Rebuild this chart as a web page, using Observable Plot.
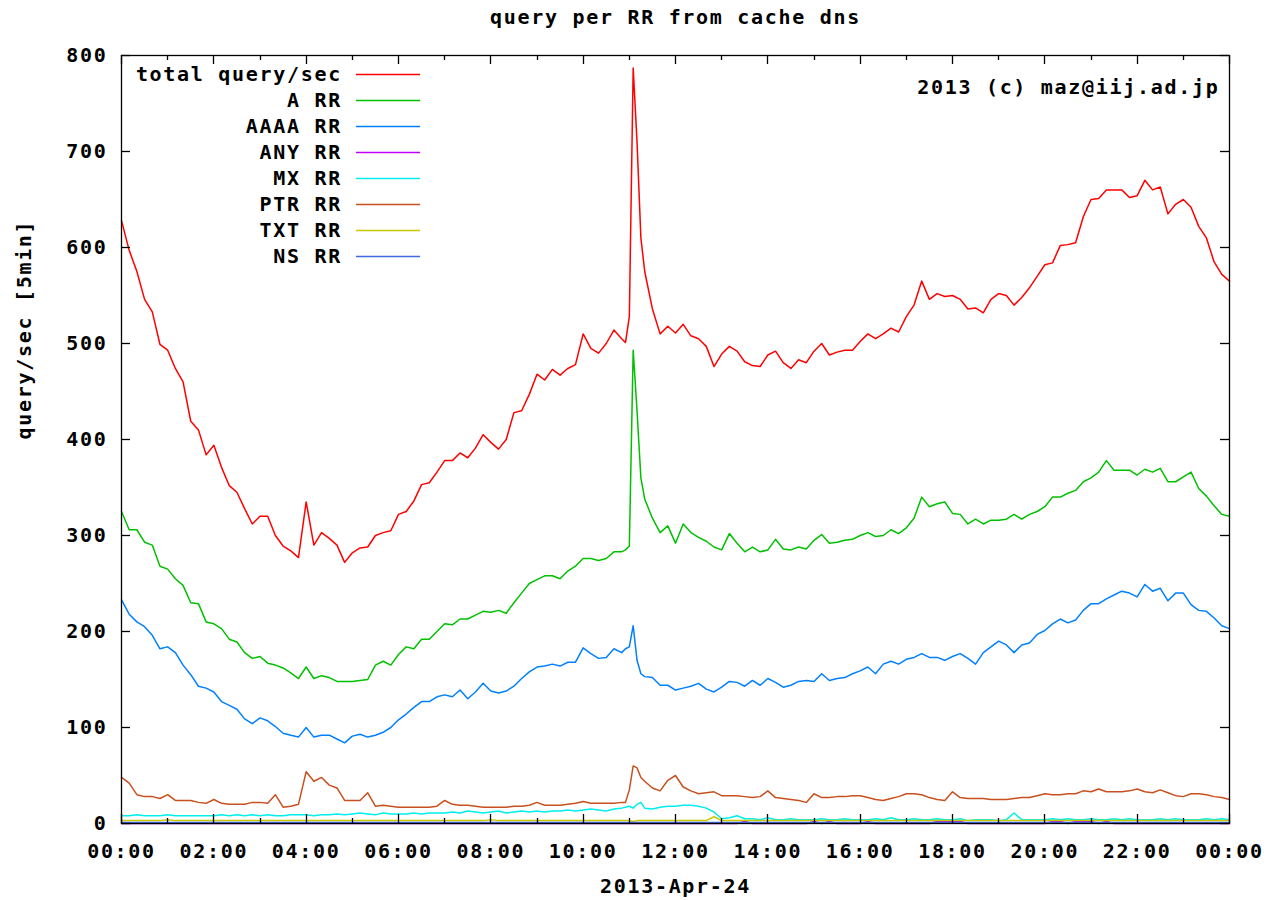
<!DOCTYPE html>
<html>
<head>
<meta charset="utf-8">
<script src="https://cdn.jsdelivr.net/npm/d3@7"></script>
<script src="https://cdn.jsdelivr.net/npm/@observablehq/plot@0.6"></script>
<style>
  html, body { margin: 0; padding: 0; background: #fff; overflow: hidden; }
  #chart svg { display: block; }
  #chart svg text { letter-spacing: 1.7px; }
</style>
</head>
<body>
<div id="chart"></div>
<script>
// DNS cache: queries per second by resource record type, 24 April 2013.
const FONT = "'DejaVu Sans Mono', 'Liberation Mono', monospace";
const day = Date.UTC(2013, 3, 24);

// Sample times in minutes after midnight (10-minute steps, 5-minute steps around the 11:05 burst)
const minutes = [...d3.range(0, 1441, 10), 655, 665, 675].sort((a, b) => a - b);

const seriesNames = ["total query/sec", "A RR", "AAAA RR", "ANY RR", "MX RR", "PTR RR", "TXT RR", "NS RR"];
const seriesColors = ["#ff0000", "#00c000", "#0080ff", "#c000ff", "#00eeee", "#c8501e", "#c8c800", "#4169e1"];

const totalQps = [
  628,597,575,546,533,499,
  493,474,460,419,410,384,
  394,371,352,345,328,312,
  320,320,300,289,284,277,
  335,290,303,297,290,272,
  282,287,288,300,303,305,
  322,325,336,353,355,366,
  378,378,386,381,391,405,
  397,390,400,428,430,447,
  468,462,473,467,474,478,
  510,495,490,500,514,505,501,
  528,787,710,610,575,536,510,518,
  511,520,508,505,497,476,
  489,497,492,481,477,476,
  488,492,480,474,483,480,
  492,500,488,491,493,493,
  502,510,505,510,516,512,
  528,540,565,546,552,549,
  550,546,536,537,532,546,
  552,550,540,548,558,570,
  582,584,602,603,605,632,
  650,651,660,660,660,652,
  654,670,660,663,635,645,
  650,642,622,610,585,572,
  565
];

const aRR = [
  325,306,306,293,290,268,
  265,255,248,230,229,210,
  208,203,192,189,178,172,
  174,167,165,162,157,151,
  163,151,154,152,148,148,
  148,149,150,165,169,165,
  176,184,182,192,192,200,
  208,207,213,213,217,221,
  220,222,219,230,240,250,
  254,258,258,255,263,268,
  276,276,274,276,283,283,285,
  289,493,430,360,338,318,303,310,
  292,312,303,298,294,288,
  285,302,292,283,288,283,
  285,296,286,285,288,286,
  295,301,292,293,295,296,
  300,303,299,300,306,302,
  308,318,340,330,333,335,
  323,322,312,317,312,316,
  316,317,322,317,322,325,
  330,340,340,344,347,356,
  360,366,378,368,368,368,
  363,369,366,370,356,356,
  361,366,349,341,331,322,
  320
];

const aaaaRR = [
  233,218,210,205,196,182,
  184,178,165,155,143,141,
  137,127,123,119,109,104,
  110,107,101,94,92,90,
  100,90,92,92,88,84,
  91,93,90,92,95,100,
  108,114,121,127,127,132,
  134,132,139,130,137,146,
  138,136,138,143,151,158,
  163,164,166,164,168,168,
  183,177,172,173,182,178,182,
  184,206,170,156,153,152,144,144,
  139,141,143,146,140,137,
  142,148,147,143,149,144,
  151,147,142,144,148,149,
  148,156,149,151,152,156,
  159,163,156,166,169,166,
  171,173,177,173,173,170,
  174,177,172,166,178,184,
  190,186,178,186,188,197,
  201,208,213,209,212,222,
  229,229,234,238,242,240,
  236,249,242,245,232,240,
  240,228,222,221,214,206,
  203
];

const anyRR = [
  0,0,0,0,0,0, 0,0,0,0,0,0, 0,0,0,0,0,0, 0,0,0,0,0,0, 0,0,0,0,0,0,
  0,0,0,0,0,0, 0,0,0,0,0,0, 0,0,0,0,0,0, 0,0,0,0,0,0, 0,0,0,0,0,0,
  0,0,0,0,0,0,0,
  0,0,0,0,0,0,0,0,
  0,0,0,0,0,0,
  0,0,0,2,0,0,
  0,0,0,0,0,0,
  2,0,2,0,0,0,
  0,2,0,0,0,0,
  0,0,0,0,2,2,
  2,2,0,0,0,0,
  0,0,0,0,0,0,
  0,2,2,0,2,2,
  2,0,2,0,0,0,
  0,0,0,0,0,0,
  0,0,0,0,0,0,
  0
];

const mxRR = [
  8,8,9,8,8,8,
  9,8,8,8,8,8,
  8,9,8,9,8,9,
  8,9,8,8,9,9,
  9,8,9,9,10,9,
  10,11,10,9,11,10,
  10,10,11,10,11,11,
  11,12,11,13,12,11,
  12,13,11,12,13,12,
  13,12,13,13,14,13,
  14,15,14,13,15,16,17,
  18,16,20,22,16,15,17,18,
  18,19,19,18,16,12,
  5,6,8,5,5,4,
  6,4,4,5,4,4,
  4,5,4,4,5,4,
  4,4,5,4,6,4,
  4,5,4,4,5,4,
  4,5,3,4,4,4,
  3,4,11,4,4,4,
  4,5,4,5,4,4,
  5,4,4,5,4,5,
  4,4,4,5,4,5,
  4,4,4,5,4,5,
  4
];

const ptrRR = [
  48,42,30,28,28,26,
  30,24,24,24,22,21,
  25,21,20,20,20,22,
  22,21,30,17,18,20,
  54,44,48,40,37,24,
  24,24,32,18,19,18,
  17,17,17,17,17,18,
  24,20,19,19,18,17,
  17,17,17,18,18,19,
  22,19,19,19,20,21,
  23,21,21,21,21,22,22,
  35,60,58,48,44,37,34,45,
  50,38,34,31,32,33,
  29,29,29,28,27,28,
  34,27,26,25,24,22,
  31,27,27,28,28,29,
  29,27,25,24,26,28,
  31,31,30,27,25,24,
  33,27,26,26,26,25,
  25,25,26,27,27,29,
  31,30,30,31,31,34,
  33,36,33,33,33,34,
  36,33,32,35,32,29,
  28,31,31,30,28,27,
  25
];

const txtRR = [
  3,3,3,3,3,3, 4,3,3,3,3,3, 3,3,3,3,3,3, 3,3,3,3,3,3, 3,3,3,3,3,3,
  3,3,3,3,3,3, 3,3,3,3,3,3, 3,3,3,3,3,3, 4,3,3,3,3,3, 3,3,3,3,3,3,
  3,3,3,3,3,3,3,
  3,2,3,3,3,3,3,3,
  3,3,3,3,3,7,
  3,3,3,3,3,3, 3,3,3,3,3,3, 3,3,3,3,3,3, 3,3,3,3,3,3, 3,3,3,3,3,3,
  3,3,3,3,3,3, 3,3,3,3,3,3, 3,3,3,3,3,3, 3,3,3,3,3,3, 3,3,3,3,3,3,
  3,3,3,3,3,3,
  3
];

const nsRR = [
  1,1,1,1,1,1, 1,1,1,1,1,1, 1,1,1,1,1,1, 1,1,1,1,1,1, 1,1,1,1,1,1,
  1,1,1,1,1,1, 1,1,1,1,1,1, 1,1,1,1,1,1, 1,1,1,1,1,1, 1,1,1,1,1,1,
  1,1,1,1,1,1,1,
  1,1,1,1,1,1,1,1,
  1,1,1,1,1,1,
  1,1,1,1,1,1, 1,1,1,1,1,1, 1,1,1,1,1,1, 1,1,1,1,1,1, 1,1,1,1,1,1,
  1,1,1,1,1,1, 1,1,1,1,1,1, 1,1,1,1,1,1, 1,1,1,1,1,1, 1,1,1,1,1,1,
  1,1,1,1,1,1,
  1
];

// Axis ticks
const yTicks = [0, 100, 200, 300, 400, 500, 600, 700, 800];
const majorHours = [0, 2, 4, 6, 8, 10, 12, 14, 16, 18, 20, 22, 24];
const minorHours = [1, 3, 5, 7, 9, 11, 13, 15, 17, 19, 21, 23];

const titleText = "query per RR from cache dns";
const xLabel = "2013-Apr-24";
const yLabel = "query/sec [5min]";
const creditText = "2013 (c) maz@iij.ad.jp";

const hourDate = (h) => new Date(day + h * 3600000);
const seriesValues = [totalQps, aRR, aaaaRR, anyRR, mxRR, ptrRR, txtRR, nsRR];
const rows = seriesNames.flatMap((name, s) =>
  minutes.map((m, i) => ({series: name, time: new Date(day + m * 60000), value: seriesValues[s][i]}))
);

// Inward ticks on all four sides of the frame (gnuplot style)
function frameTicks(index, scales, values, dims) {
  const {x, y} = scales;
  const left = dims.marginLeft, right = dims.width - dims.marginRight;
  const top = dims.marginTop, bottom = dims.height - dims.marginBottom;
  const g = d3.create("svg:g").attr("stroke", "#000").attr("stroke-width", 1.3).attr("fill", "none");
  for (const v of yTicks) {
    const py = Math.round(y(v)) + 0.5;
    g.append("line").attr("x1", left).attr("x2", left + 9).attr("y1", py).attr("y2", py);
    g.append("line").attr("x1", right - 9).attr("x2", right).attr("y1", py).attr("y2", py);
  }
  const hourTicks = [...majorHours.map(h => [h, 9]), ...minorHours.map(h => [h, 5])];
  for (const [h, len] of hourTicks) {
    const px = Math.round(x(hourDate(h))) + 0.5;
    g.append("line").attr("x1", px).attr("x2", px).attr("y1", bottom).attr("y2", bottom - len);
    g.append("line").attr("x1", px).attr("x2", px).attr("y1", top).attr("y2", top + len);
  }
  return g.node();
}

// Key in the upper-left corner of the plot area
function keyBox(index, scales, values, dims) {
  const g = d3.create("svg:g")
    .attr("font-family", FONT).attr("font-weight", "bold").attr("font-size", 20).attr("fill", "#000");
  seriesNames.forEach((name, i) => {
    const yy = dims.marginTop + 19 + i * 26;
    g.append("text").attr("x", dims.marginLeft + 221).attr("y", yy).attr("dy", "0.36em")
      .attr("text-anchor", "end").text(name);
    g.append("line").attr("x1", dims.marginLeft + 235).attr("x2", dims.marginLeft + 299)
      .attr("y1", yy + 0.5).attr("y2", yy + 0.5)
      .attr("stroke", scales.color(name)).attr("stroke-width", 1.6);
  });
  return g.node();
}

const textStyle = {fontFamily: FONT, fontWeight: "bold", fontSize: 20, fill: "#000"};

const chart = Plot.plot({
  width: 1267,
  height: 900,
  marginLeft: 121,
  marginRight: 38,
  marginTop: 55,
  marginBottom: 77,
  style: {fontFamily: FONT, fontWeight: "bold", fontSize: "20px", background: "#fff", color: "#000"},
  x: {type: "utc", domain: [hourDate(0), hourDate(24)]},
  y: {domain: [0, 800]},
  color: {domain: seriesNames, range: seriesColors},
  marks: [
    Plot.line(rows, {x: "time", y: "value", z: "series", stroke: "series", strokeWidth: 1.5}),
    Plot.frame({stroke: "#000", strokeWidth: 1.3}),
    frameTicks,
    Plot.axisY(yTicks, {anchor: "left", tickSize: 0, tickPadding: 14, label: null, ...textStyle}),
    Plot.axisX(majorHours.map(hourDate), {
      anchor: "bottom", tickSize: 0, tickPadding: 20, label: null,
      tickFormat: d3.utcFormat("%H:%M"), ...textStyle
    }),
    Plot.text([titleText], {frameAnchor: "top", lineAnchor: "middle", dy: -38, ...textStyle}),
    Plot.text([xLabel], {frameAnchor: "bottom", lineAnchor: "middle", dy: 63, ...textStyle}),
    Plot.text([yLabel], {frameAnchor: "left", lineAnchor: "middle", dx: -97, rotate: -90, ...textStyle}),
    Plot.text([creditText], {frameAnchor: "top-right", lineAnchor: "middle", textAnchor: "end", dx: -10, dy: 32, ...textStyle}),
    keyBox
  ]
});

document.getElementById("chart").appendChild(chart);
</script>
</body>
</html>
